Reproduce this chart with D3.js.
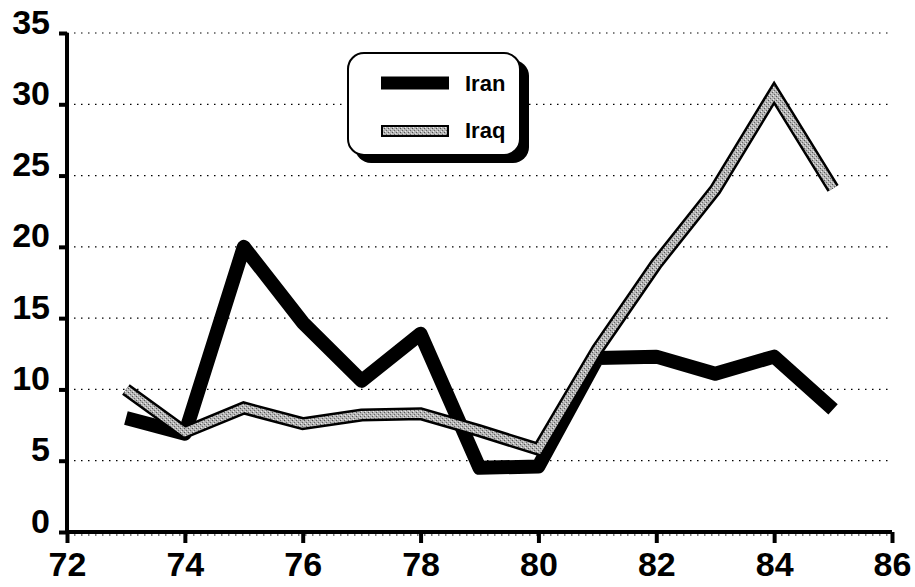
<!DOCTYPE html>
<html>
<head>
<meta charset="utf-8">
<script src="https://cdn.jsdelivr.net/npm/d3@7"></script>
<style>
html,body{margin:0;padding:0;background:#fff;}
svg{display:block;}
text{font-family:"Liberation Sans",Arial,sans-serif;font-weight:bold;fill:#000;}
</style>
</head>
<body>
<svg id="chart" width="915" height="587"></svg>
<script>
const years = [73,74,75,76,77,78,79,80,81,82,83,84,85];
const iran  = [8.0,6.9,20.0,14.7,10.6,13.9,4.5,4.6,12.2,12.3,11.1,12.3,8.6];
const iraq  = [10.0,7.0,8.7,7.6,8.2,8.3,7.1,5.8,12.8,18.8,24.0,30.8,24.1];
const xTicks = [72,74,76,78,80,82,84,86];
const yTicks = [0,5,10,15,20,25,30,35];
const seriesNames = ["Iran","Iraq"];

const svg = d3.select("#chart");
const x = d3.scaleLinear().domain([72,86]).range([67,892]);
const y = d3.scaleLinear().domain([0,35]).range([532,33]);

// texture pattern for Iraq
const defs = svg.append("defs");
const pat = defs.append("pattern").attr("id","stip").attr("patternUnits","userSpaceOnUse")
  .attr("width",4).attr("height",4);
pat.append("rect").attr("width",4).attr("height",4).attr("fill","#b4b4b4");
pat.append("rect").attr("x",0).attr("y",0).attr("width",1).attr("height",1).attr("fill","#555");
pat.append("rect").attr("x",2).attr("y",2).attr("width",1).attr("height",1).attr("fill","#666");
pat.append("rect").attr("x",1).attr("y",3).attr("width",1).attr("height",1).attr("fill","#eee");
pat.append("rect").attr("x",3).attr("y",1).attr("width",1).attr("height",1).attr("fill","#ddd");

// gridlines
svg.append("g").selectAll("line").data(yTicks).join("line")
  .attr("x1",x(72)).attr("x2",x(86))
  .attr("y1",d=>y(d)+ (d===0?3:0)).attr("y2",d=>y(d)+(d===0?3:0))
  .attr("stroke","#000").attr("stroke-width",1.2)
  .attr("stroke-dasharray","1.5,5.5");

// y axis
const yAxis = d3.axisLeft(y).tickValues(yTicks).tickSize(8).tickPadding(9);
const gy = svg.append("g").attr("transform",`translate(${x(72)},0)`).call(yAxis);
gy.select(".domain").attr("stroke","#000").attr("stroke-width",4).attr("d",`M0,${y(35)}V${y(0)}`);
gy.selectAll(".tick line").attr("stroke","#000").attr("stroke-width",4);
gy.selectAll(".tick text").style("font-size","34px").attr("dy","0.0em")
  .style("font-family","'Liberation Sans',Arial,sans-serif").style("font-weight","bold");

// x axis
const xAxis = d3.axisBottom(x).tickValues(xTicks).tickSize(11).tickPadding(9);
const gx = svg.append("g").attr("transform",`translate(0,${y(0)})`).call(xAxis);
gx.select(".domain").attr("stroke","#000").attr("stroke-width",4).attr("d",`M${x(72)},0H${x(86)}`);
gx.selectAll(".tick line").attr("stroke","#000").attr("stroke-width",4);
gx.selectAll(".tick text").style("font-size","34px")
  .style("font-family","'Liberation Sans',Arial,sans-serif").style("font-weight","bold");

// lines
const line = d3.line().x((d,i)=>x(years[i])).y(d=>y(d));
svg.append("path").datum(iran).attr("d",line).attr("fill","none")
  .attr("stroke","#000").attr("stroke-width",14).attr("stroke-linejoin","round");
svg.append("path").datum(iraq).attr("d",line).attr("fill","none")
  .attr("stroke","#000").attr("stroke-width",13).attr("stroke-linejoin","miter");
svg.append("path").datum(iraq).attr("d",line).attr("fill","none")
  .attr("stroke","url(#stip)").attr("stroke-width",8).attr("stroke-linejoin","miter");

// legend
const lg = svg.append("g");
lg.append("rect").attr("x",355).attr("y",60).attr("width",174).attr("height",103)
  .attr("rx",16).attr("fill","#000");
lg.append("rect").attr("x",348).attr("y",53).attr("width",172).attr("height",102)
  .attr("rx",16).attr("fill","#fff").attr("stroke","#000").attr("stroke-width",2);
lg.append("line").attr("x1",381).attr("x2",449).attr("y1",83).attr("y2",83)
  .attr("stroke","#000").attr("stroke-width",13);
lg.append("rect").attr("x",381).attr("y",125).attr("width",68).attr("height",12)
  .attr("fill","#000");
lg.append("rect").attr("x",383).attr("y",127).attr("width",64).attr("height",8)
  .attr("fill","url(#stip)");
lg.selectAll("text.lab").data(seriesNames).join("text").attr("class","lab")
  .attr("x",465).attr("y",(d,i)=>91+i*47).style("font-size","22px")
  .style("font-weight","bold").text(d=>d);
</script>
</body>
</html>
